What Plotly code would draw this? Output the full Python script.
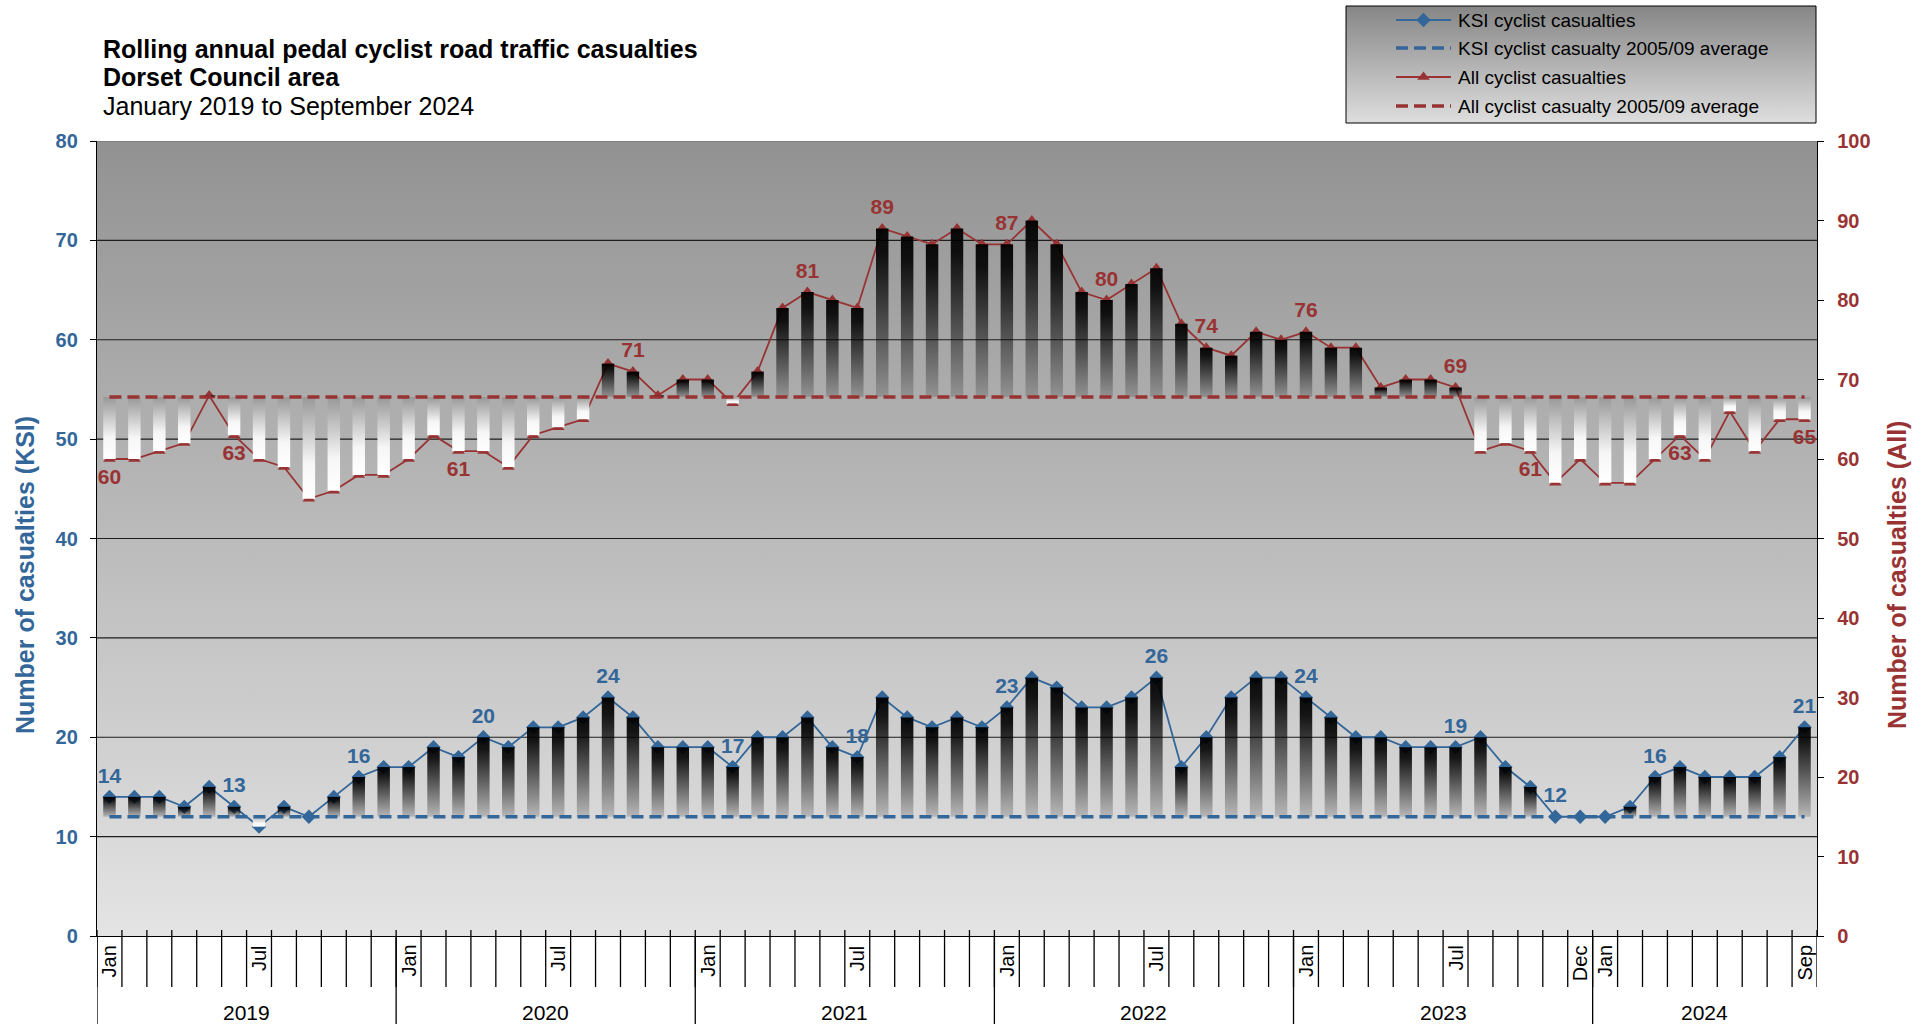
import plotly.graph_objects as go

# ---------------- data ----------------
years = ["2019", "2020", "2021", "2022", "2023", "2024"]
month_labels = (
    ["Jan", "", "", "", "", "", "Jul", "", "", "", "", ""] +      # 2019
    ["Jan", "", "", "", "", "", "Jul", "", "", "", "", ""] +      # 2020
    ["Jan", "", "", "", "", "", "Jul", "", "", "", "", ""] +      # 2021
    ["Jan", "", "", "", "", "", "Jul", "", "", "", "", ""] +      # 2022
    ["Jan", "", "", "", "", "", "Jul", "", "", "", "", "Dec"] +   # 2023
    ["Jan", "", "", "", "", "", "", "", "Sep"]                    # 2024
)
months_per_year = [12, 12, 12, 12, 12, 9]

ksi = [14, 14, 14, 13, 15, 13, 11, 13, 12, 14, 16, 17,
       17, 19, 18, 20, 19, 21, 21, 22, 24, 22, 19, 19,
       19, 17, 20, 20, 22, 19, 18, 24, 22, 21, 22, 21,
       23, 26, 25, 23, 23, 24, 26, 17, 20, 24, 26, 26,
       24, 22, 20, 20, 19, 19, 19, 20, 17, 15, 12, 12,
       12, 13, 16, 17, 16, 16, 16, 18, 21]
all_cas = [60, 60, 61, 62, 68, 63, 60, 59, 55, 56, 58, 58,
           60, 63, 61, 61, 59, 63, 64, 65, 72, 71, 68, 70,
           70, 67, 71, 79, 81, 80, 79, 89, 88, 87, 89, 87,
           87, 90, 87, 81, 80, 82, 84, 77, 74, 73, 76, 75,
           76, 74, 74, 69, 70, 70, 69, 61, 62, 61, 57, 60,
           57, 57, 60, 63, 60, 66, 61, 65, 65]
ksi_avg = 12.0
all_avg = 67.8

ksi_label_idx = [0, 5, 10, 15, 20, 25, 30, 36, 42, 48, 54, 58, 62, 68]
all_label_idx = [0, 5, 14, 21, 28, 31, 36, 40, 44, 48, 54, 57, 63, 68]
all_label_below = [0, 5, 14, 57, 63, 68]

legend_names = ["KSI cyclist casualties", "KSI cyclist casualty 2005/09 average",
                "All cyclist casualties", "All cyclist casualty 2005/09 average"]

# ---------------- geometry helpers ----------------
W, H = 1928, 1024
ML, MR, MT, MB = 97, 111, 4, 88
PW, PH = W - ML - MR, H - MT - MB


def py(p):
    return (H - MB - p) / PH


def pxx(p):
    return (p - ML) / PW


BLUE = "#336699"
RED = "#993333"
FONT = "Liberation Sans, Arial, sans-serif"
DASH = "12px,6px"
LBL = 21
HW = 0.25

n = len(ksi)
x = list(range(n))
fig = go.Figure()

# plot background gradient
fig.add_trace(go.Scatter(
    x=[-0.5, n - 0.5, n - 0.5, -0.5, -0.5], y=[0, 0, 80, 80, 0],
    mode="lines", fill="toself", line=dict(width=0),
    fillgradient=dict(type="vertical", colorscale=[[0, "#e4e4e4"], [1, "#929292"]], start=0, stop=80),
    hoverinfo="skip", showlegend=False, yaxis="y"))

# gridlines
gx, gy = [], []
for v in range(10, 80, 10):
    gx += [-0.5, n - 0.5, None]
    gy += [v, v, None]
fig.add_trace(go.Scatter(x=gx, y=gy, mode="lines", line=dict(color="#1e1e1e", width=1.2),
                         hoverinfo="skip", showlegend=False, yaxis="y"))
fig.add_trace(go.Scatter(x=[-0.5, n - 0.5], y=[80, 80], mode="lines", line=dict(color="#7a7a7a", width=1.5),
                         hoverinfo="skip", showlegend=False, yaxis="y"))


def add_bars(vals, avg, yax, up_scale, down_scale):
    for i, v in enumerate(vals):
        if abs(v - avg) < 1e-9:
            continue
        lo, hi = min(v, avg), max(v, avg)
        cs = up_scale if v > avg else down_scale
        fig.add_trace(go.Scatter(
            x=[i - HW, i + HW, i + HW, i - HW, i - HW], y=[avg, avg, v, v, avg],
            mode="lines", fill="toself", line=dict(width=0),
            fillgradient=dict(type="vertical", colorscale=cs, start=lo, stop=hi),
            hoverinfo="skip", showlegend=False, yaxis=yax))


up_cs = [[0, "rgba(0,0,0,0.15)"], [0.85, "rgba(0,0,0,0.9)"], [1, "rgba(0,0,0,0.95)"]]


def add_series(vals, avg, yax, color, symbol, down_top, label_idx, positions):
    # line with markers (bars are drawn over it, as in the original)
    fig.add_trace(go.Scatter(x=x, y=vals, mode="lines+markers",
                             line=dict(color=color, width=1.8),
                             marker=dict(symbol=symbol, size=11, color=color),
                             showlegend=False, yaxis=yax))
    add_bars(vals, avg, yax, up_cs, [[0, "#ffffff"], [0.35, "#f6f6f6"], [1, down_top]])
    fig.add_trace(go.Scatter(x=[0, n - 1], y=[avg, avg], mode="lines",
                             line=dict(color=color, width=3.5, dash=DASH),
                             hoverinfo="skip", showlegend=False, yaxis=yax))
    text = [str(v) if i in label_idx else "" for i, v in enumerate(vals)]
    fig.add_trace(go.Scatter(x=x, y=vals, mode="markers+text", text=text, textposition=positions,
                             marker=dict(size=13, opacity=0),
                             textfont=dict(family=FONT, size=LBL, color=color, weight="bold"),
                             hoverinfo="skip", showlegend=False, yaxis=yax))


add_series(ksi, ksi_avg, "y", BLUE, "diamond", "#b5b5b5", ksi_label_idx, "top center")
all_pos = ["bottom center" if i in all_label_below else "top center" for i in range(n)]
add_series(all_cas, all_avg, "y2", RED, "triangle-up", "#989898", all_label_idx, all_pos)

# ---------------- hand-drawn legend on helper axes (pixel-like units) ----------------
LX0, LX1, LY0, LY1 = 1346, 1816, 6, 123
AX0, AX1, AY0, AY1 = LX0 - 2, 1817, 4, LY1 + 2
fig.add_trace(go.Scatter(x=[LX0, LX1, LX1, LX0, LX0], y=[-LY1, -LY1, -LY0, -LY0, -LY1],
                         mode="lines", fill="toself", line=dict(color="#000000", width=1),
                         fillgradient=dict(type="vertical", colorscale=[[0, "#dedede"], [1, "#868686"]],
                                           start=-LY1, stop=-LY0),
                         hoverinfo="skip", showlegend=False, xaxis="x3", yaxis="y3"))
rows = [20, 48, 77, 106]
sym_x0, sym_x1, txt_x = 1396, 1451, 1456
styles = [
    dict(color=BLUE, dash="solid", width=1.8, symbol="diamond"),
    dict(color=BLUE, dash=DASH, width=3.5, symbol=None),
    dict(color=RED, dash="solid", width=1.8, symbol="triangle-up"),
    dict(color=RED, dash=DASH, width=3.5, symbol=None),
]
leg_ann = []
for r, st, name in zip(rows, styles, legend_names):
    fig.add_trace(go.Scatter(x=[sym_x0, sym_x1], y=[-r, -r], mode="lines",
                             line=dict(color=st["color"], width=st["width"], dash=st["dash"]),
                             hoverinfo="skip", showlegend=False, xaxis="x3", yaxis="y3"))
    if st["symbol"]:
        fig.add_trace(go.Scatter(x=[(sym_x0 + sym_x1) / 2], y=[-r], mode="markers",
                                 marker=dict(symbol=st["symbol"], size=11, color=st["color"]),
                                 hoverinfo="skip", showlegend=False, xaxis="x3", yaxis="y3"))
    leg_ann.append(dict(x=txt_x, y=-r, xref="x3", yref="y3", text=name, showarrow=False,
                        xanchor="left", yanchor="middle", font=dict(family=FONT, size=19, color="black")))

# ---------------- x axis decorations ----------------
shapes = []
for b in range(n + 1):
    xb = b - 0.5
    shapes.append(dict(type="line", xref="x", yref="paper", x0=xb, x1=xb,
                       y0=py(930), y1=py(987), line=dict(color="black", width=1.3)))
start = 0
year_bounds = [0]
for c in months_per_year:
    start += c
    year_bounds.append(start)
for b in year_bounds[:-1]:
    shapes.append(dict(type="line", xref="x", yref="paper", x0=b - 0.5, x1=b - 0.5,
                       y0=py(936), y1=py(1024), line=dict(color="black", width=1.3)))

annotations = list(leg_ann)
for i, lab in enumerate(month_labels):
    if lab:
        annotations.append(dict(x=i, y=py(943), xref="x", yref="paper", text=lab, showarrow=False,
                                textangle=-90, xanchor="center", yanchor="top",
                                font=dict(family=FONT, size=20, color="black")))
for k, yr in enumerate(years):
    mid = (year_bounds[k] + year_bounds[k + 1] - 1) / 2
    annotations.append(dict(x=mid, y=py(1012), xref="x", yref="paper", text=yr, showarrow=False,
                            xanchor="center", yanchor="middle",
                            font=dict(family=FONT, size=21, color="black")))

# titles
annotations += [
    dict(x=pxx(101), y=py(49), xref="paper", yref="paper", xanchor="left", yanchor="middle", showarrow=False,
         text="<b>Rolling annual pedal cyclist road traffic casualties</b>",
         font=dict(family=FONT, size=25, color="black")),
    dict(x=pxx(101), y=py(77), xref="paper", yref="paper", xanchor="left", yanchor="middle", showarrow=False,
         text="<b>Dorset Council area</b>", font=dict(family=FONT, size=25, color="black")),
    dict(x=pxx(101), y=py(106), xref="paper", yref="paper", xanchor="left", yanchor="middle", showarrow=False,
         text="January 2019 to September 2024", font=dict(family=FONT, size=25, color="black")),
    dict(x=pxx(25), y=py(575), xref="paper", yref="paper", xanchor="center", yanchor="middle", showarrow=False,
         textangle=-90, text="<b>Number of casualties (KSI)</b>", font=dict(family=FONT, size=25, color=BLUE)),
    dict(x=pxx(1897), y=py(575), xref="paper", yref="paper", xanchor="center", yanchor="middle", showarrow=False,
         textangle=-90, text="<b>Number of casualties (All)</b>", font=dict(family=FONT, size=25, color=RED)),
]

fig.update_layout(
    width=W, height=H,
    margin=dict(l=ML, r=MR, t=MT, b=MB, autoexpand=False),
    paper_bgcolor="white", plot_bgcolor="rgba(0,0,0,0)",
    font=dict(family=FONT, color="black"),
    showlegend=False,
    xaxis=dict(range=[-0.5, n - 0.5], showticklabels=False, ticks="", showgrid=False, zeroline=False,
               showline=True, linecolor="black", linewidth=1.3, domain=[0, 1]),
    yaxis=dict(range=[0, 80], dtick=10, domain=[0, py(141)], showgrid=False, zeroline=False,
               showline=True, linecolor="black", linewidth=1.3, ticks="outside", ticklen=6,
               tickcolor="black", tickwidth=1.3, ticklabelstandoff=8,
               tickfont=dict(family=FONT, size=20, color=BLUE, weight="bold")),
    yaxis2=dict(range=[0, 100], dtick=10, overlaying="y", side="right", showgrid=False, zeroline=False,
                showline=True, linecolor="black", linewidth=1.3, ticks="outside", ticklen=6,
                tickcolor="black", tickwidth=1.3, ticklabelstandoff=9,
                tickfont=dict(family=FONT, size=20, color=RED, weight="bold")),
    xaxis3=dict(domain=[pxx(AX0), pxx(AX1)], range=[AX0, AX1], visible=False, anchor="y3"),
    yaxis3=dict(domain=[py(AY1), py(AY0)], range=[-AY1, -AY0], visible=False, anchor="x3"),
    shapes=shapes, annotations=annotations,
)

fig.write_html("out.html", config={"displayModeBar": False},
               post_script="document.body.style.margin='0';document.body.style.overflow='hidden';")
